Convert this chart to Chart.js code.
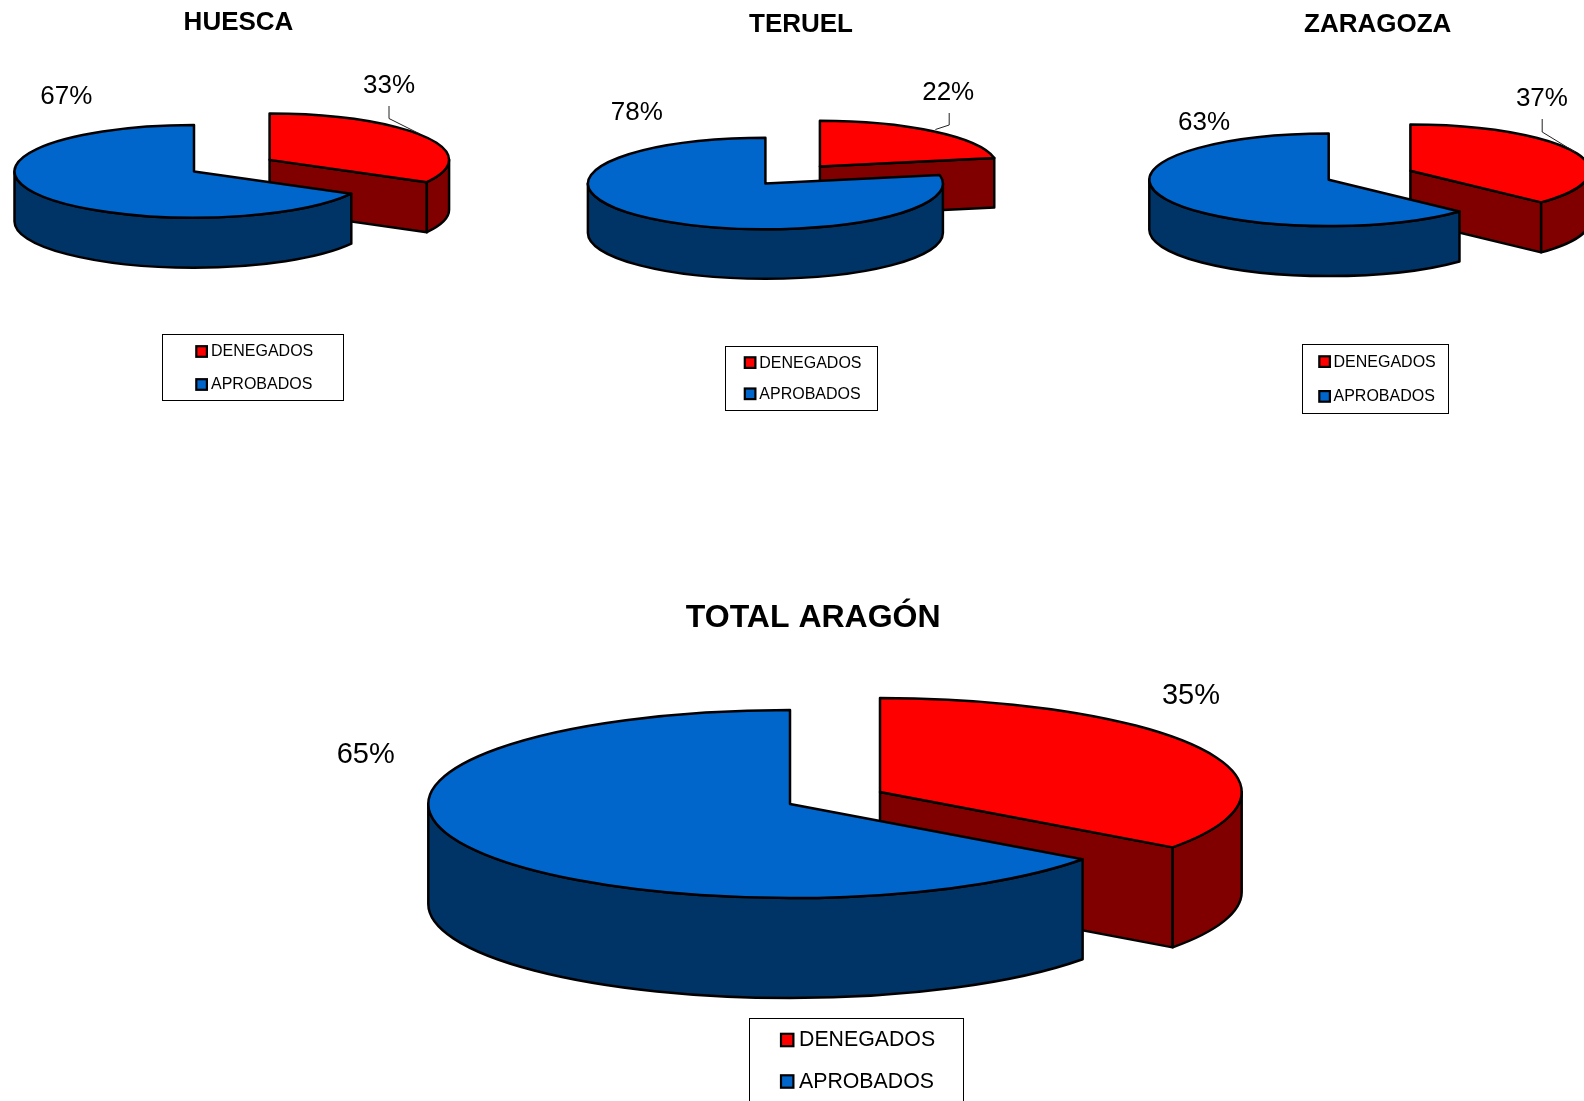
<!DOCTYPE html>
<html><head><meta charset="utf-8">
<style>
html,body{margin:0;padding:0;background:#fff;width:1584px;height:1101px;overflow:hidden}
canvas{position:absolute;left:0;top:0}
</style>
<script src="https://cdn.jsdelivr.net/npm/chart.js@4"></script>
</head><body>
<canvas id="c0"></canvas><canvas id="c1"></canvas><canvas id="c2"></canvas><canvas id="c3"></canvas>
<script>
const categories = ["DENEGADOS", "APROBADOS"];
const titles = ["HUESCA", "TERUEL", "ZARAGOZA", "TOTAL ARAGÓN"];
const huescaValues = [33, 67];
const teruelValues = [22, 78];
const zaragozaValues = [37, 63];
const totalValues = [35, 65];
const topColors = ["#FF0000", "#0066CC"];
const wallColors = ["#800000", "#003366"];
const FONT = '"Liberation Sans", Arial, sans-serif';

const layouts = [
  {cx:194, cy:171.4, r:179.5, off:87.8, tilt:.258, depth:50, title:[238.5,23,26], pct:26,
   labels:[[389,86],[66.3,96.5]], leader:[[389,106],[389,118.5],[420,134]],
   legend:{box:[162.3,334,180.5,66.4], sw:[195.3,12.6], rows:[351.5,384.5], tx:211, font:16}},
  {cx:765.4, cy:183.5, r:177.5, off:85.5, tilt:.258, depth:49.5, title:[801,25,26], pct:26,
   labels:[[948.2,92.5],[636.8,112.5]], leader:[[949.2,113],[949.2,125],[935.4,129.5]],
   legend:{box:[725.3,345.5,151.9,63.6], sw:[743.8,12.6], rows:[362.6,393.8], tx:759.3, font:16}},
  {cx:1328.7, cy:179.8, r:179.4, off:89, tilt:.258, depth:50, title:[1377.7,25,26], pct:26,
   labels:[[1541.9,98.5],[1204,122.7]], leader:[[1542.2,119],[1542.2,132],[1575,152]],
   legend:{box:[1301.5,343.8,146,68.7], sw:[1318.3,12.6], rows:[361.6,396.4], tx:1333.5, font:16}},
  {cx:790, cy:804, r:361.7, off:101, tilt:.26, depth:100, title:[813.2,618,32], pct:29,
   labels:[[1191,696],[365.7,754.6]], leader:null,
   legend:{box:[748.6,1018.3,214.1,90], sw:[780,14.4], rows:[1040,1081.5], tx:799, font:21.3}}
];

const W = 1584, H = 1101;

const pie3d = {
  id:'pie3d',
  beforeDatasetDraw(chart){
    const L = chart.options.plugins.pie3d.layout, ctx = chart.ctx;
    const arcs = chart.getDatasetMeta(0).data;
    ctx.save();
    ctx.lineJoin = 'round';
    ctx.strokeStyle = '#000';
    ctx.lineWidth = 2.5;
    arcs.forEach((arc, i) => {
      const a0 = arc.startAngle, a1 = arc.endAngle, r = arc.outerRadius, ry = r*L.tilt;
      const mid = (a0+a1)/2, o = arc.options.offset || 0;
      const x = arc.x + Math.cos(mid)*o, y = arc.y + Math.sin(mid)*o*L.tilt;
      const px = t => x + Math.cos(t)*r, py = t => y + Math.sin(t)*ry;
      const d = L.depth;
      // radial wall on the slice's clockwise edge, when it faces the viewer
      if (i === 0) {
        ctx.beginPath();
        ctx.moveTo(x,y); ctx.lineTo(px(a1),py(a1));
        ctx.lineTo(px(a1),py(a1)+d); ctx.lineTo(x,y+d); ctx.closePath();
        ctx.fillStyle = wallColors[i]; ctx.fill(); ctx.stroke();
      }
      // outer curved wall: only the front half of the ellipse
      const t1 = Math.max(a0,0), t2 = Math.min(a1,Math.PI);
      if (t2 > t1) {
        ctx.beginPath();
        ctx.ellipse(x,y,r,ry,0,t1,t2,false);
        ctx.ellipse(x,y+d,r,ry,0,t2,t1,true);
        ctx.closePath();
        ctx.fillStyle = wallColors[i]; ctx.fill(); ctx.stroke();
      }
      // top face
      ctx.beginPath();
      ctx.moveTo(x,y);
      ctx.ellipse(x,y,r,ry,0,a0,a1,false);
      ctx.closePath();
      ctx.fillStyle = arc.options.backgroundColor; ctx.fill(); ctx.stroke();
    });
    ctx.restore();
    return false;
  },
  afterDraw(chart){
    const P = chart.options.plugins.pie3d, L = P.layout, ctx = chart.ctx;
    const vals = chart.data.datasets[0].data;
    ctx.save();
    ctx.textBaseline = 'middle';
    ctx.fillStyle = '#000';
    // title
    ctx.textAlign = 'center';
    ctx.font = `bold ${L.title[2]}px ${FONT}`;
    ctx.fillText(P.titleText, L.title[0], L.title[1]);
    // percentage labels
    ctx.font = `${L.pct}px ${FONT}`;
    vals.forEach((v,i) => ctx.fillText(v+'%', L.labels[i][0], L.labels[i][1]));
    // leader line
    if (L.leader) {
      ctx.strokeStyle = '#222'; ctx.lineWidth = 1;
      ctx.beginPath();
      L.leader.forEach((p,i) => i ? ctx.lineTo(p[0],p[1]) : ctx.moveTo(p[0],p[1]));
      ctx.stroke();
    }
    // legend
    const g = L.legend;
    ctx.fillStyle = '#fff'; ctx.strokeStyle = '#000'; ctx.lineWidth = 1;
    const bx = Math.round(g.box[0])+.5, by = Math.round(g.box[1])+.5;
    ctx.fillRect(bx,by,Math.round(g.box[2]),Math.round(g.box[3]));
    ctx.strokeRect(bx,by,Math.round(g.box[2]),Math.round(g.box[3]));
    ctx.textAlign = 'left';
    ctx.font = `${g.font}px ${FONT}`;
    chart.data.labels.forEach((lab,i) => {
      const s = g.sw[1], y = g.rows[i];
      ctx.fillStyle = chart.data.datasets[0].backgroundColor[i];
      ctx.lineWidth = 2.2; ctx.strokeStyle = '#000';
      ctx.fillRect(g.sw[0]+1,y-s/2+1,s-2,s-2);
      ctx.strokeRect(g.sw[0]+1,y-s/2+1,s-2,s-2);
      ctx.fillStyle = '#000';
      ctx.fillText(lab, g.tx, y+.5);
    });
    ctx.restore();
  }
};

function build(id, title, values, L){
  const c = document.getElementById(id);
  c.width = W; c.height = H;
  c.style.width = W+'px'; c.style.height = H+'px';
  // pad the chart area so that its centre falls on the pie's centre
  const padX = W - 2*L.cx, padY = H - 2*L.cy;
  new Chart(c, {
    type:'pie',
    data:{labels:categories, datasets:[{
      data:values,
      backgroundColor:topColors,
      borderColor:'#000', borderWidth:2,
      offset:[L.off,0],
      radius:L.r
    }]},
    options:{
      responsive:false, animation:false, devicePixelRatio:1,
      layout:{padding:{
        left:padX<0?-padX:0, right:padX>0?padX:0,
        top:padY<0?-padY:0, bottom:padY>0?padY:0}},
      plugins:{legend:{display:false}, title:{display:false}, tooltip:{enabled:false},
        pie3d:{layout:L, titleText:title}}
    },
    plugins:[pie3d]
  });
}
build('c0', titles[0], huescaValues, layouts[0]);
build('c1', titles[1], teruelValues, layouts[1]);
build('c2', titles[2], zaragozaValues, layouts[2]);
build('c3', titles[3], totalValues, layouts[3]);
</script>
</body></html>
